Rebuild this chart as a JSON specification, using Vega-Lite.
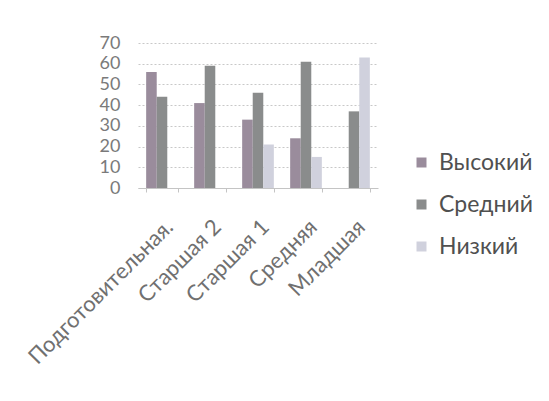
{
  "$schema": "https://vega.github.io/schema/vega-lite/v6.json",
  "width": 240,
  "height": 145,
  "autosize": {"type": "none"},
  "padding": {"left": 138, "top": 43, "right": 171, "bottom": 213},
  "background": "white",
  "config": {
    "font": "Lato",
    "view": {"stroke": null}
  },
  "data": {
    "values": [
      {"group": "Подготовительная.", "level": "Высокий", "value": 56},
      {"group": "Подготовительная.", "level": "Средний", "value": 44},
      {"group": "Подготовительная.", "level": "Низкий", "value": 0},
      {"group": "Старшая 2", "level": "Высокий", "value": 41},
      {"group": "Старшая 2", "level": "Средний", "value": 59},
      {"group": "Старшая 2", "level": "Низкий", "value": 0},
      {"group": "Старшая 1", "level": "Высокий", "value": 33},
      {"group": "Старшая 1", "level": "Средний", "value": 46},
      {"group": "Старшая 1", "level": "Низкий", "value": 21},
      {"group": "Средняя", "level": "Высокий", "value": 24},
      {"group": "Средняя", "level": "Средний", "value": 61},
      {"group": "Средняя", "level": "Низкий", "value": 15},
      {"group": "Младшая", "level": "Высокий", "value": 0},
      {"group": "Младшая", "level": "Средний", "value": 37},
      {"group": "Младшая", "level": "Низкий", "value": 63}
    ]
  },
  "mark": {"type": "bar"},
  "encoding": {
    "x": {
      "field": "group",
      "type": "nominal",
      "sort": ["Подготовительная.", "Старшая 2", "Старшая 1", "Средняя", "Младшая"],
      "scale": {"paddingInner": 0.34, "paddingOuter": 0.17},
      "axis": {
        "title": null,
        "labelAngle": -45,
        "labelFontSize": 22,
        "labelColor": "#707070",
        "labelPadding": 24,
        "labelLimit": 0,
        "domainColor": "#c4c4c4",
        "tickColor": "#c4c4c4",
        "tickBand": "extent",
        "tickSize": 4,
        "grid": false
      }
    },
    "xOffset": {
      "field": "level",
      "type": "nominal",
      "sort": ["Высокий", "Средний", "Низкий"],
      "scale": {"domain": ["Высокий", "Средний", "Низкий"], "paddingInner": 0, "paddingOuter": 0}
    },
    "y": {
      "field": "value",
      "type": "quantitative",
      "scale": {"domain": [0, 70], "nice": false},
      "axis": {
        "title": null,
        "values": [0, 10, 20, 30, 40, 50, 60, 70],
        "labelFontSize": 18,
        "labelColor": "#7a7a7a",
        "labelPadding": 18,
        "domain": false,
        "ticks": false,
        "grid": true,
        "gridColor": "#c8c8c8",
        "gridDash": [2, 2]
      }
    },
    "color": {
      "field": "level",
      "type": "nominal",
      "scale": {
        "domain": ["Высокий", "Средний", "Низкий"],
        "range": ["#9a8c9c", "#8a8c8c", "#d0d1dd"]
      },
      "legend": {
        "title": null,
        "orient": "none",
        "legendX": 272,
        "legendY": 108,
        "symbolType": "square",
        "symbolSize": 100,
        "symbolStrokeWidth": 0,
        "labelFontSize": 23,
        "labelColor": "#505050",
        "labelOffset": 6,
        "rowPadding": 18
      }
    }
  }
}
